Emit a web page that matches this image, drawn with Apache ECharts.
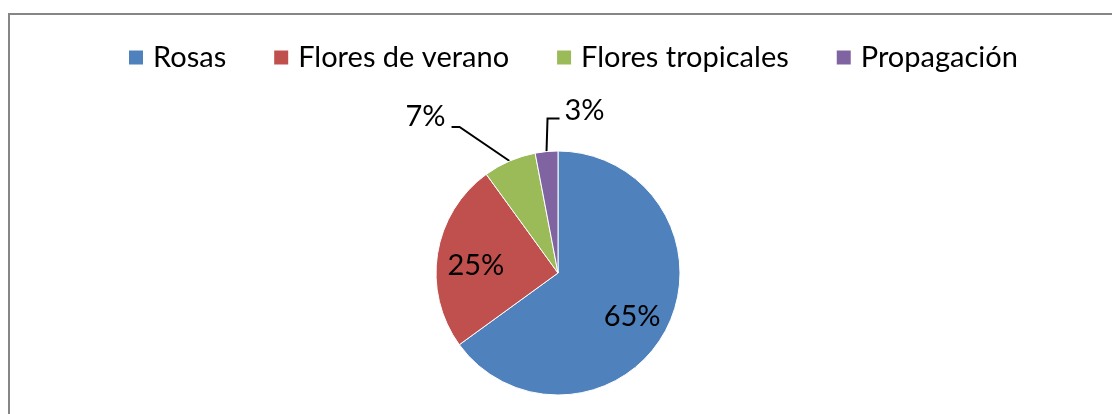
<!DOCTYPE html>
<html>
<head>
<meta charset="utf-8">
<style>
  html, body { margin: 0; padding: 0; background: #fff; }
  #chart { width: 1112px; height: 414px; }
</style>
<script src="https://cdn.jsdelivr.net/npm/echarts@6/dist/echarts.min.js"></script>
</head>
<body>
<div id="chart"></div>
<script>
var categories = ['Rosas', 'Flores de verano', 'Flores tropicales', 'Propagación'];
var values = [65, 25, 7, 3];
var sliceColors = ['#4F81BD', '#C0504D', '#9BBB59', '#8064A2'];

var cx = 558, cy = 273, radius = 122;
var font = 'Lato, "Open Sans", sans-serif';

var pieData = categories.map(function (name, i) {
  var item = { name: name, value: values[i], itemStyle: { color: sliceColors[i] } };
  if (i < 2) {
    item.label = { position: 'inside' };
  }
  return item;
});

var chart = echarts.init(document.getElementById('chart'));

chart.setOption({
  backgroundColor: '#fff',
  animation: false,
  graphic: [{
    type: 'rect',
    shape: { x: 9, y: 14, width: 1200, height: 500 },
    style: { fill: 'none', stroke: '#868686', lineWidth: 2 }
  }],
  legend: {
    data: categories,
    left: 127,
    top: 43,
    padding: 0,
    itemWidth: 16,
    itemHeight: 16,
    itemGap: 46,
    icon: 'rect',
    selectedMode: false,
    textStyle: { fontFamily: font, fontSize: 29, color: '#000', padding: [0, 0, 0, 4] }
  },
  series: [{
    type: 'pie',
    center: [cx, cy],
    radius: radius,
    startAngle: 90,
    clockwise: true,
    avoidLabelOverlap: false,
    itemStyle: { borderColor: '#fff', borderWidth: 1 },
    label: {
      formatter: '{d}%',
      fontFamily: font,
      fontSize: 29,
      color: '#000'
    },
    labelLine: {
      show: true,
      length: 20,
      length2: 10,
      lineStyle: { color: '#000', width: 2 }
    },
    labelLayout: function (p) {
      var i = p.dataIndex, r = p.labelRect;
      if (i < 2) {
        // Excel puts the inside labels further out than mid-radius
        var lx = r.x + r.width / 2, ly = r.y + r.height / 2;
        var k = 1.3;
        return { x: cx + (lx - cx) * k, y: cy + (ly - cy) * k + 6, align: 'center', verticalAlign: 'middle' };
      }
      var pts = p.labelLinePoints;
      if (!pts) return {};
      var a = pts[0];
      if (i === 2) {
        var b = [a[0] - 50, a[1] - 34];
        var c = [b[0] - 8, b[1]];
        return { x: c[0] - 6, y: c[1] - 10, align: 'right', verticalAlign: 'middle', labelLinePoints: [a, b, c] };
      }
      var b2 = [a[0] + 1, a[1] - 33];
      var c2 = [b2[0] + 12, b2[1]];
      return { x: c2[0] + 5, y: c2[1] - 8, align: 'left', verticalAlign: 'middle', labelLinePoints: [a, b2, c2] };
    },
    data: pieData
  }]
});
</script>
</body>
</html>
